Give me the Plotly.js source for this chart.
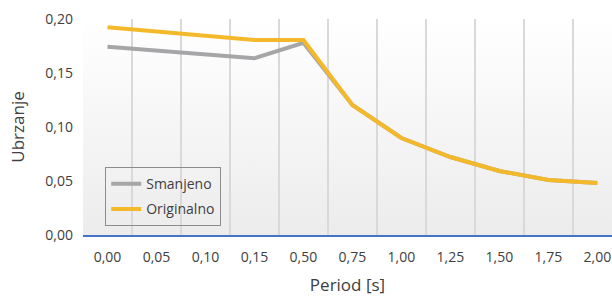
<!DOCTYPE html>
<html>
<head>
<meta charset="utf-8">
<script src="https://cdn.plot.ly/plotly-3.0.1.min.js"></script>
<style>html,body{margin:0;padding:0;background:#fff;}#chart{width:612px;height:296px;}</style>
</head>
<body>
<div id="chart"></div>
<script>
const periods = ['0,00','0,05','0,10','0,15','0,50','0,75','1,00','1,25','1,50','1,75','2,00'];
const smanjeno = [0.1744, 0.1707, 0.1673, 0.1636, 0.178, 0.1204, 0.0898, 0.0722, 0.0593, 0.0509, 0.0481];
const originalno = [0.1923, 0.1883, 0.1846, 0.1806, 0.1806, 0.1204, 0.0898, 0.0722, 0.0593, 0.0509, 0.0481];

const grad = 'data:image/svg+xml;utf8,' + encodeURIComponent(
  '<svg xmlns="http://www.w3.org/2000/svg" width="100" height="100" preserveAspectRatio="none">' +
  '<defs><linearGradient id="g" x1="0" y1="0" x2="0" y2="1">' +
  '<stop offset="0" stop-color="#ffffff"/><stop offset="1" stop-color="#ececec"/></linearGradient></defs>' +
  '<rect width="100" height="100" fill="url(#g)"/></svg>');

const traces = [
  {x: periods, y: smanjeno, name: 'Smanjeno', type: 'scatter', mode: 'lines',
   line: {color: '#a6a6a8', width: 4}, legendgroup: 'a'},
  {x: periods, y: originalno, name: 'Originalno', type: 'scatter', mode: 'lines',
   line: {color: '#f4b92a', width: 4}, legendgroup: 'b'}
];

const layout = {
  width: 612, height: 296,
  margin: {l: 83, r: 0, t: 19, b: 61},
  paper_bgcolor: '#ffffff',
  plot_bgcolor: 'rgba(0,0,0,0)',
  separators: ',.',
  font: {family: 'Open Sans, sans-serif', size: 14, color: '#404040'},
  images: [{source: grad, xref: 'paper', yref: 'paper', x: 0, y: 1, sizex: 1, sizey: 1,
            sizing: 'stretch', layer: 'below', xanchor: 'left', yanchor: 'top'}],
  xaxis: {
    type: 'category', range: [-0.5, 10.3],
    tickson: 'boundaries', showgrid: true, gridcolor: '#d9d9d9', gridwidth: 1.5,
    ticks: '', showline: true, linecolor: '#4472c4', linewidth: 1.5,
    ticklabelstandoff: 9,
    tickfont: {size: 14, color: '#404040'},
    title: {text: 'Period [s]', font: {size: 17, color: '#404040'}, standoff: 16},
    fixedrange: true
  },
  yaxis: {
    range: [0, 0.2], tickvals: [0, 0.05, 0.1, 0.15, 0.2], tickformat: '.2f',
    showgrid: false, zeroline: false, showline: false, ticks: '',
    ticklabelstandoff: 9,
    tickfont: {size: 14, color: '#404040'},
    title: {text: 'Ubrzanje', font: {size: 17, color: '#404040'}, standoff: 16},
    fixedrange: true
  },
  showlegend: true,
  legend: {
    x: 0.0416, y: 0.315, xanchor: 'left', yanchor: 'top',
    bgcolor: 'rgba(0,0,0,0)', bordercolor: '#8c8c8c', borderwidth: 1.2,
    font: {size: 14, color: '#404040'},
    traceorder: 'grouped', tracegroupgap: 4
  }
};

Plotly.newPlot('chart', traces, layout, {displayModeBar: false, staticPlot: true});
</script>
</body>
</html>
